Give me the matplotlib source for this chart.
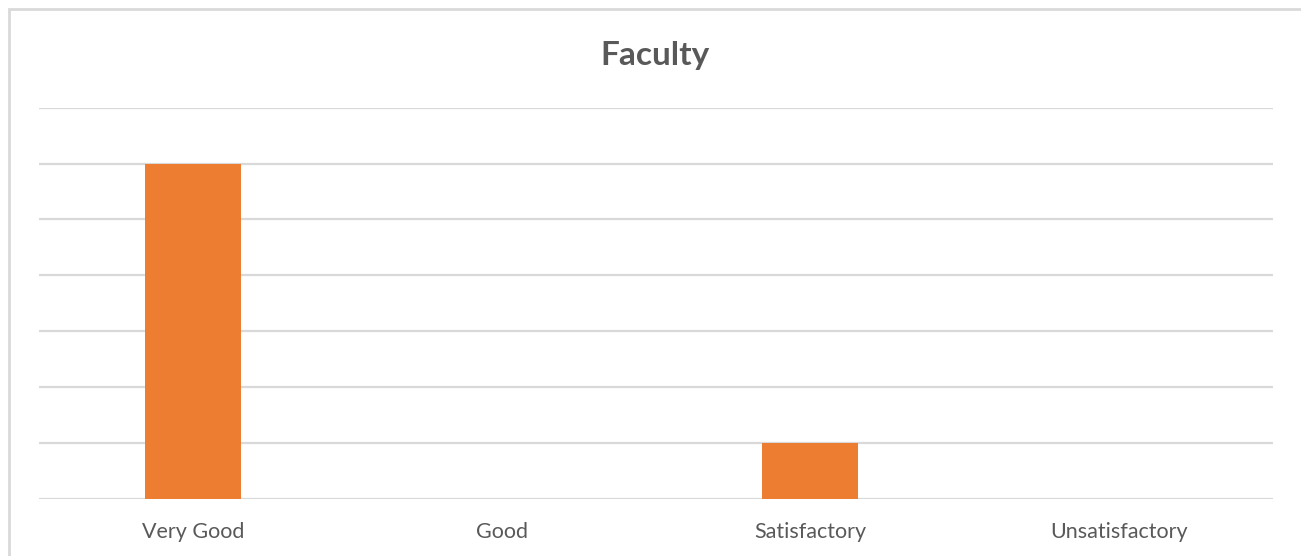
import matplotlib.pyplot as plt
from matplotlib.patches import Rectangle

categories = ['Very Good', 'Good', 'Satisfactory', 'Unsatisfactory']
values = [6, 0, 1, 0]
title = 'Faculty'

plt.rcParams['font.family'] = ['Lato', 'DejaVu Sans']

fig = plt.figure(figsize=(13.01, 5.56), dpi=100)
ax = fig.add_axes([0.0296, 0.1025, 0.949, 0.704])

# chart border (Excel style), cut at right/bottom
fig.patches.append(Rectangle((9 / 1301, -0.1), 1.2, 1 - 9 / 556 + 0.1,
                             transform=fig.transFigure, fill=False,
                             edgecolor='#d9d9d9', linewidth=2))

x = range(len(categories))
ax.bar(x, values, width=0.31, color='#ED7D31', zorder=3)

ax.set_xlim(-0.5, len(categories) - 0.5)
ax.set_ylim(0, 7)
ax.set_yticks(range(0, 8))
ax.yaxis.grid(True, color='#d9d9d9', linewidth=1.6, zorder=0)
ax.tick_params(axis='y', left=False, labelleft=False)
ax.tick_params(axis='x', length=0, pad=16.5, labelsize=15.5, labelcolor='#595959')
ax.set_xticks(list(x))
ax.set_xticklabels(categories)
for s in ax.spines.values():
    s.set_visible(False)

fig.text(655 / 1301, 1 - 56 / 556, title, ha='center', va='center',
         fontsize=24, fontweight='bold', color='#595959')

fig.savefig('out.png', dpi=100)
